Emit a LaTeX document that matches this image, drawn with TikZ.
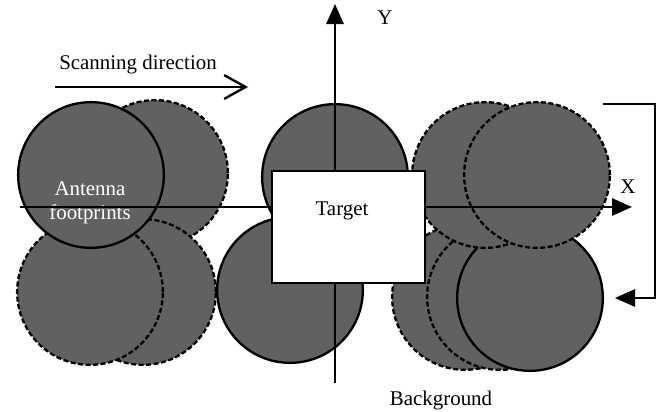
\documentclass[tikz,border=0pt]{standalone}
\usepackage{fontspec}
\setmainfont{Liberation Serif}
\usetikzlibrary{arrows.meta}

\begin{document}
\begin{tikzpicture}[
        x=0.21mm, y=-0.21mm,
        font=\fontsize{12.5}{14.5}\selectfont,
        spot/.style={circle, draw, line width=1.4pt, fill=black!62, minimum size=30.6mm, inner sep=0pt},
        ghost/.style={spot, dash pattern=on 3pt off 1.5pt},
        axis/.style={line width=1.4pt, -{Triangle[length=4.2mm,width=3.6mm]}},
        box/.style={draw, line width=1.4pt, fill=white, minimum width=32.1mm, minimum height=23.5mm}
    ]
        \useasboundingbox (0,0) rectangle (665,412);
        % left group of footprints
        \node[ghost] (l2) at (155,173) {};
        \node[ghost] (l3) at (143,292) {};
        \node[ghost] (l4) at (90,292) {};
        \node[spot] (l1) at (91,175) {};
        \node[text=white, align=center] (foot) at (90,203) {Antenna\\footprints};
        % footprints on the target
        \node[spot] (c1) at (335,177) {};
        \node[spot] (c2) at (290,290) {};
        % right group of footprints
        \node[ghost] (r3) at (465,297) {};
        \node[ghost] (r4) at (500,297) {};
        \node[spot] (r5) at (530,298) {};
        \node[ghost] (r1) at (485,175) {};
        \node[ghost] (r2) at (537,175) {};
        % axes
        \coordinate (xs) at (20,207);
        \coordinate (xe) at (632,207);
        \coordinate (ys) at (335,383);
        \coordinate (ye) at (335,4);
        \draw[axis] (xs) -- (xe);
        \draw[axis] (ys) -- (ye);
        \node (xlab) at (628,187) {X};
        \node (ylab) at (385,18) {Y};
        % target
        \node[box] (target) at (348.5,227) {};
        \node (tlab) at (342,211) {Target};
        % scanning
        \node (scan) at (138,64) {Scanning direction};
        \coordinate (s0) at (55,87);
        \coordinate (s1) at (248,87);
        \draw[line width=1.4pt, -{Straight Barb[length=4.5mm,width=5mm]}] (s0) -- (s1);
        % return of the scan
        \coordinate (b0) at (603,104);
        \coordinate (b1) at (655,104);
        \coordinate (b2) at (655,298);
        \coordinate (b3) at (615,298);
        \draw[axis] (b0) -- (b1) -- (b2) -- (b3);
        \node (bg) at (441,400) {Background};
\end{tikzpicture}
\end{document}
